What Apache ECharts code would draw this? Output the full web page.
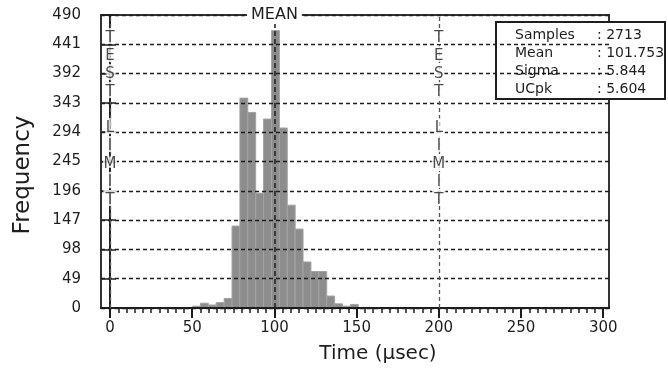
<!DOCTYPE html>
<html>
<head>
<meta charset="utf-8">
<script src="https://cdn.jsdelivr.net/npm/echarts@6/dist/echarts.min.js"></script>
<style>
  html, body { margin: 0; padding: 0; background: #fff; }
  #chart { width: 668px; height: 370px; }
</style>
</head>
<body>
<div id="chart"></div>
<script>
// histogram bins (µsec) and their counts
const binEdges = [50.2, 55.0, 59.8, 64.6, 69.4, 74.2, 79.0, 83.8, 88.6, 93.4, 98.2,
  103.0, 107.8, 112.6, 117.4, 122.2, 127.0, 131.8, 136.6, 141.4, 146.2, 151.0];
const counts = [3, 8, 5, 9, 16, 137, 351, 327, 192, 316, 464, 301, 172, 132, 77, 61, 61, 20, 7, 3, 6];

const xTicks = [0, 50, 100, 150, 200, 250, 300];
const xMinorStep = 5;
const yTicks = [0, 49, 98, 147, 196, 245, 294, 343, 392, 441, 490];

const meanLine = 100;
const testLimits = [0, 200];

const statNames = ['Samples', 'Mean', 'Sigma', 'UCpk'];
const statValues = [': 2713', ': 101.753', ': 5.844', ': 5.604'];

const FONT = '"DejaVu Sans", sans-serif';
const INK = '#1e1e1e';

const chart = echarts.init(document.getElementById('chart'));

const minorTicks = [];
for (let v = xTicks[0]; v <= xTicks[xTicks.length - 1]; v += xMinorStep) minorTicks.push(v);

const barData = counts.map((c, i) => [binEdges[i], binEdges[i + 1], c]);

const xBase = {
  type: 'value',
  min: -5.5,
  max: 303.5,
  splitLine: { show: false },
};
const yBase = {
  type: 'value',
  min: yTicks[0],
  max: yTicks[yTicks.length - 1],
  interval: yTicks[1] - yTicks[0],
};

chart.setOption({
  animation: false,
  backgroundColor: '#fff',
  textStyle: { fontFamily: FONT },
  grid: {
    left: 101, top: 15, width: 508, height: 293,
    show: true, borderColor: '#333', borderWidth: 2,
  },
  xAxis: [
    {
      ...xBase,
      axisLine: { lineStyle: { color: INK, width: 2 } },
      axisTick: { customValues: xTicks, length: 10, lineStyle: { color: INK, width: 2 } },
      axisLabel: { customValues: xTicks, color: INK, fontSize: 15, margin: 13 },
      name: 'Time (µsec)',
      nameLocation: 'middle',
      nameGap: 36,
      nameTextStyle: { color: INK, fontSize: 20, padding: [0, 0, 0, 46] },
    },
    {
      ...xBase,
      position: 'bottom',
      axisLine: { show: false },
      axisTick: { customValues: minorTicks, length: 5, lineStyle: { color: INK, width: 1.5 } },
      axisLabel: { show: false },
    },
  ],
  yAxis: [
    {
      ...yBase,
      axisLine: { show: true, lineStyle: { color: INK, width: 2 } },
      axisTick: { show: true, length: 8, lineStyle: { color: INK, width: 1.5 } },
      axisLabel: { color: INK, fontSize: 15, margin: 20 },
      splitLine: { show: true, lineStyle: { color: INK, width: 1.3, type: [4, 3] } },
      name: 'Frequency',
      nameLocation: 'middle',
      nameGap: 66,
      nameTextStyle: { color: INK, fontSize: 23, padding: [0, 27, 0, 0] },
    },
    {
      ...yBase,
      position: 'left',
      axisLine: { show: false },
      axisTick: { show: true, inside: true, length: 6, lineStyle: { color: INK, width: 1.5 } },
      axisLabel: { show: false },
      splitLine: { show: false },
    },
  ],
  series: [
    {
      // bars sit under the dashed grid lines, as in the original
      type: 'custom',
      name: 'hist',
      z: -1,
      data: barData,
      encode: { x: [0, 1], y: 2 },
      renderItem: (params, api) => {
        const p0 = api.coord([api.value(0), api.value(2)]);
        const p1 = api.coord([api.value(1), 0]);
        return {
          type: 'rect',
          shape: { x: p0[0], y: p0[1], width: p1[0] - p0[0], height: p1[1] - p0[1] },
          style: { fill: '#8d8d8d', stroke: '#a3a3a3', lineWidth: 1 },
        };
      },
    },
    {
      type: 'line',
      data: [],
      z: 4,
      markLine: {
        silent: true,
        symbol: 'none',
        data: [
          {
            xAxis: meanLine,
            lineStyle: { color: INK, width: 1.5, type: [5, 3] },
            label: {
              show: true, position: 'end', formatter: 'MEAN', distance: -9,
              color: INK, fontSize: 16, backgroundColor: '#fff', padding: [1, 4],
            },
          },
          ...testLimits.map((v) => ({
            xAxis: v,
            lineStyle: { color: '#555', width: 1.3, type: [4, 3] },
            label: { show: false },
          })),
        ],
      },
    },
    {
      type: 'scatter',
      z: 6,
      symbolSize: 0,
      silent: true,
      data: testLimits.map((v) => [v, 466]),
      label: {
        show: true,
        position: 'bottom',
        distance: 0,
        formatter: 'T\nE\nS\nT\n\nL\nI\nM\nI\nT',
        color: INK,
        fontSize: 15,
        lineHeight: 18,
        textBorderColor: '#fff',
        textBorderWidth: 4,
      },
      labelLayout: { hideOverlap: false },
    },
  ],
  graphic: [
    {
      type: 'group',
      z: 10,
      children: [
        {
          type: 'rect',
          shape: { x: 496, y: 22, width: 169, height: 77 },
          style: { fill: '#fff', stroke: INK, lineWidth: 2 },
        },
        {
          type: 'text',
          style: {
            x: 515, y: 26, text: statNames.join('\n'), fill: INK,
            font: '14px ' + FONT, lineHeight: 18, verticalAlign: 'top',
          },
        },
        {
          type: 'text',
          style: {
            x: 597, y: 26, text: statValues.join('\n'), fill: INK,
            font: '14px ' + FONT, lineHeight: 18, verticalAlign: 'top',
          },
        },
      ],
    },
  ],
});
</script>
</body>
</html>
